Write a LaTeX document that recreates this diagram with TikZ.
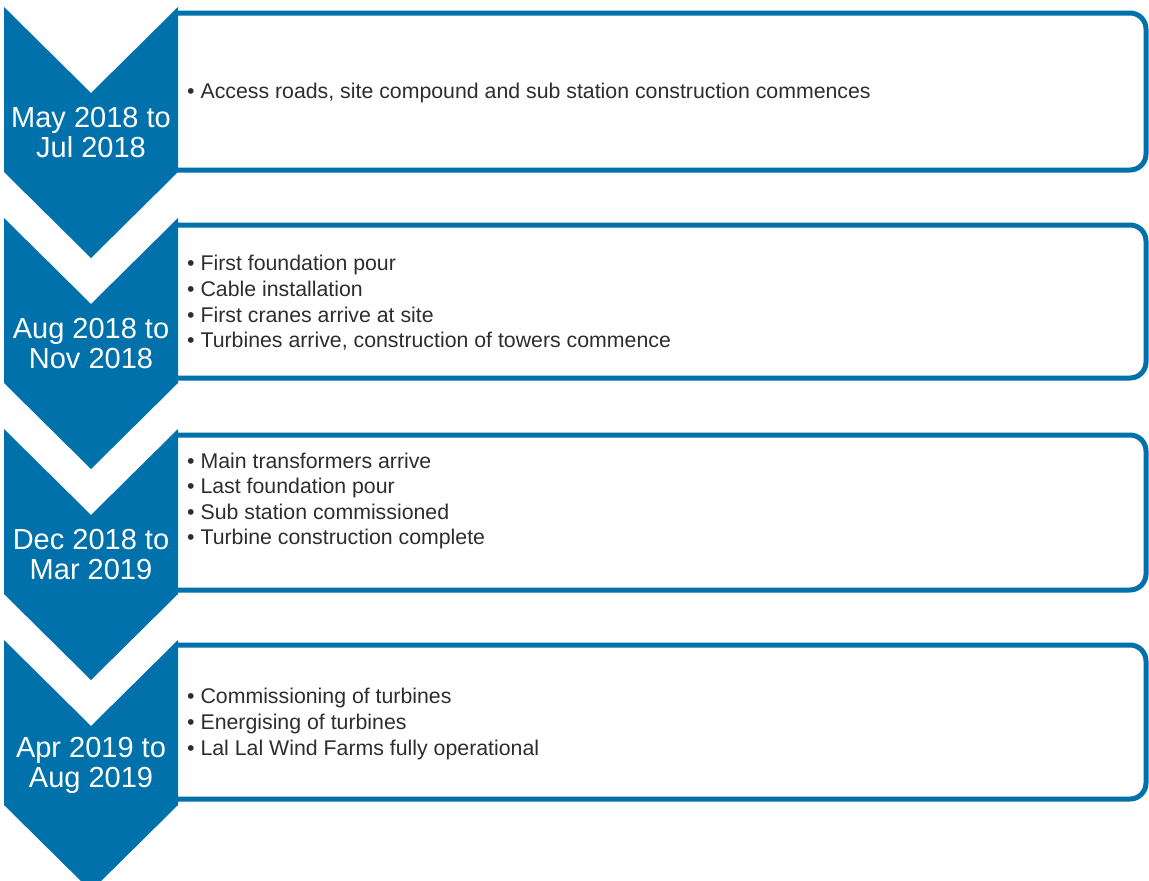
\documentclass[tikz,border=0pt]{standalone}
\usepackage{fontspec}
\setmainfont{Liberation Sans}
\usetikzlibrary{positioning}

\definecolor{stageblue}{RGB}{0,113,170}
\definecolor{bullettext}{RGB}{45,45,45}

\begin{document}
\begin{tikzpicture}[
    x = 1pt,
    y = -1pt,
    stage/.style = {fill = stageblue, draw = none},
    frame/.style = {draw = stageblue, line width = 5pt, rounded corners = 16pt},
    when/.style = {text = white, align = center,
                   font = \fontsize{29}{30}\selectfont},
    tasks/.style = {text = bullettext, align = left, anchor = west,
                    inner sep = 0pt, font = \fontsize{21.3}{25.6}\selectfont},
    ]

    \useasboundingbox (0,0) rectangle (1149,881);
    \clip (0,0) rectangle (1149,881);

    % frames behind the chevrons
    \draw[frame] (177,13) -- (1146,13) -- (1146,170) -- (177,170);
    \draw[frame] (177,225) -- (1146,225) -- (1146,378) -- (177,378);
    \draw[frame] (177,435) -- (1146,435) -- (1146,590) -- (177,590);
    \draw[frame] (177,645) -- (1146,645) -- (1146,799) -- (177,799);

    % chevrons
    \fill[stage] (4,7) -- (91,93) -- (178,7) -- (178,172) -- (91,258) -- (4,172) -- cycle;
    \fill[stage] (4,218) -- (91,304) -- (178,218) -- (178,383) -- (91,469) -- (4,383) -- cycle;
    \fill[stage] (4,429) -- (91,515) -- (178,429) -- (178,594) -- (91,680) -- (4,594) -- cycle;
    \fill[stage] (4,640) -- (91,726) -- (178,640) -- (178,805) -- (91,891) -- (4,805) -- cycle;

    \node[when] (w1) at (91,133) {May 2018 to\\Jul 2018};
    \node[when] (w2) at (91,344) {Aug 2018 to\\Nov 2018};
    \node[when] (w3) at (91,555) {Dec 2018 to\\Mar 2019};
    \node[when] (w4) at (91,765) {Apr 2019 to\\Aug 2019};

    \node[tasks] (t1) at (187,93)
        {• Access roads, site compound and sub station construction commences};
    \node[tasks] (t2) at (187,303)
        {• First foundation pour\\• Cable installation\\• First cranes arrive at site\\%
         • Turbines arrive, construction of towers commence};
    \node[tasks] (t3) at (187,501)
        {• Main transformers arrive\\• Last foundation pour\\• Sub station commissioned\\%
         • Turbine construction complete};
    \node[tasks] (t4) at (187,724)
        {• Commissioning of turbines\\• Energising of turbines\\• Lal Lal Wind Farms fully operational};
\end{tikzpicture}
\end{document}
